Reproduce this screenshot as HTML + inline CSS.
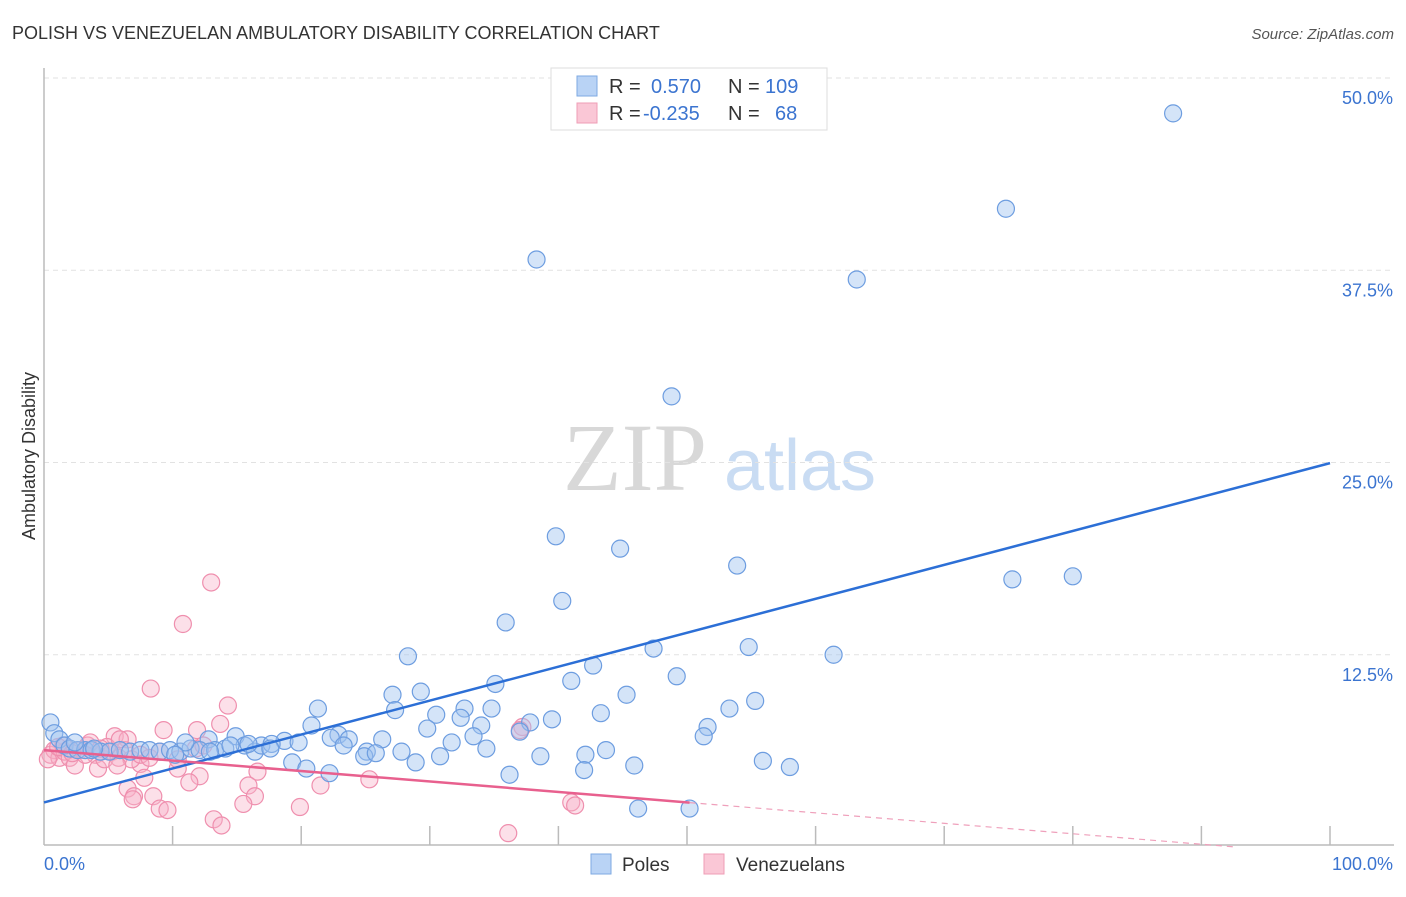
<!DOCTYPE html>
<html><head><meta charset="utf-8"><style>
body{margin:0;background:#fff;font-family:"Liberation Sans",sans-serif;}
svg text{font-family:"Liberation Sans",sans-serif;}
</style></head><body>
<svg id="chart" width="1406" height="892">
<text x="12" y="39" font-size="18" fill="#333">POLISH VS VENEZUELAN AMBULATORY DISABILITY CORRELATION CHART</text>
<text x="1394" y="39" font-size="15" fill="#555" font-style="italic" text-anchor="end">Source: ZipAtlas.com</text>
<text x="35" y="456" font-size="18" fill="#333" transform="rotate(-90 35 456)" text-anchor="middle">Ambulatory Disability</text>
<g>
<text x="635" y="490" font-size="96" fill="#d8d8d8" font-family="Liberation Serif" text-anchor="middle" style="font-family:'Liberation Serif',serif">ZIP</text>
<text x="800" y="490" font-size="72" fill="#c9dcf3" text-anchor="middle">atlas</text>
</g>
<g id="grid"></g>
<g id="axes"></g>
<g id="pts"></g>
<g id="lines"></g>
<g>
<rect x="551" y="68" width="276" height="62" fill="#fff" stroke="#ddd"/>
<rect x="577" y="76" width="20" height="20" fill="#b9d3f5" stroke="#7ea9e2"/>
<rect x="577" y="103" width="20" height="20" fill="#fac7d6" stroke="#ef9db6"/>
<text x="609" y="93" font-size="20" fill="#333">R =</text>
<text x="651" y="93" font-size="20" fill="#3b74d0">0.570</text>
<text x="728" y="93" font-size="20" fill="#333">N =</text>
<text x="765" y="93" font-size="20" fill="#3b74d0">109</text>
<text x="609" y="120" font-size="20" fill="#333">R =</text>
<text x="643" y="120" font-size="20" fill="#3b74d0">-0.235</text>
<text x="728" y="120" font-size="20" fill="#333">N =</text>
<text x="775" y="120" font-size="20" fill="#3b74d0">68</text>
</g>
<g>
<rect x="591" y="854" width="20" height="20" fill="#b9d3f5" stroke="#7ea9e2"/>
<text x="622" y="871" font-size="19" fill="#333">Poles</text>
<rect x="704" y="854" width="20" height="20" fill="#fac7d6" stroke="#ef9db6"/>
<text x="736" y="871" font-size="19" fill="#333">Venezuelans</text>
</g>
</svg>
<script>
const yTicks=[12.5,25,37.5,50];
const yTickLabels=["12.5%","25.0%","37.5%","50.0%"];
const xTickCount=10;
const polesX=[87.8,74.8,63.2,38.3,48.8,39.8,44.8,53.9,75.3,80.0,40.3,35.9,47.4,54.8,61.4,28.3,42.7,49.2,41.0,35.1,27.1,29.3,45.3,55.3,21.3,27.3,53.3,30.5,32.7,34.8,43.3,32.4,20.8,29.8,34.0,37.8,39.5,51.6,37.0,22.9,22.3,26.3,31.7,33.4,51.3,23.7,23.3,18.7,19.8,14.9,12.8,34.4,27.8,43.7,42.1,30.8,25.1,24.9,38.6,28.9,25.8,19.3,20.4,22.2,45.9,55.9,58.0,42.0,36.2,46.2,50.2,0.5,0.8,1.2,1.6,2.0,2.6,3.2,3.7,4.4,5.1,5.9,6.7,7.5,8.2,9.0,9.8,10.6,11.4,12.1,13.3,14.1,15.6,16.4,16.9,17.7,11.0,12.9,14.5,15.9,17.6,10.2,3.9,2.4];
const polesY=[47.7,41.5,36.9,38.2,29.3,20.2,19.4,18.3,17.4,17.6,16.0,14.6,12.9,13.0,12.5,12.4,11.8,11.1,10.8,10.6,9.9,10.1,9.9,9.5,9.0,8.9,9.0,8.6,9.0,9.0,8.7,8.4,7.9,7.7,7.9,8.1,8.3,7.8,7.5,7.3,7.1,7.0,6.8,7.2,7.2,7.0,6.6,6.9,6.8,7.2,7.0,6.4,6.2,6.3,6.0,5.9,6.2,5.9,5.9,5.5,6.1,5.5,5.1,4.8,5.3,5.6,5.2,5.0,4.7,2.5,2.5,8.1,7.4,7.0,6.6,6.4,6.3,6.3,6.3,6.2,6.2,6.3,6.2,6.3,6.3,6.2,6.3,6.2,6.4,6.3,6.3,6.4,6.6,6.2,6.6,6.7,6.8,6.2,6.6,6.7,6.4,6.0,6.4,6.8];
const venX=[13.0,10.8,8.3,14.3,9.3,13.7,11.9,5.5,6.5,37.2,37.0,11.8,7.5,10.4,12.1,16.6,25.3,7.8,15.9,21.5,11.3,6.5,7.0,8.5,6.9,16.4,15.5,19.9,9.0,9.6,41.0,41.3,13.2,13.8,36.1,0.5,0.8,1.2,1.6,2.0,2.4,2.8,3.4,4.0,4.2,4.7,5.3,5.8,6.3,6.8,3.6,1.5,4.9,5.7,0.3,3.2,1.1,2.2,5.9,4.4,7.5,8.2,9.0,10.4,12.4];
const venY=[17.2,14.5,10.3,9.2,7.6,8.0,7.6,7.2,7.0,7.8,7.6,6.4,5.4,5.1,4.6,4.9,4.4,4.5,4.0,4.0,4.2,3.8,3.3,3.3,3.1,3.3,2.8,2.6,2.5,2.4,2.9,2.7,1.8,1.4,0.9,6.0,6.3,5.8,6.2,5.8,5.3,6.3,6.6,6.0,5.1,5.7,6.2,5.8,6.3,5.7,6.8,6.6,6.5,5.3,5.7,6.0,6.5,6.1,7.0,6.4,6.0,5.8,6.2,5.7,6.6];
const polesTrend=[2.9,24.96];
const venTrend=[6.3,-0.5];
const venSolidEnd=50.2;

const X0=44,X1=1330,Y0=847,PX=15.38;
const sx=v=>X0+(X1-X0)*v/100;
const sy=v=>Y0-v*PX;
const NS="http://www.w3.org/2000/svg";
function mk(tag,attrs,parent){const e=document.createElementNS(NS,tag);for(const k in attrs)e.setAttribute(k,attrs[k]);parent.appendChild(e);return e;}
const grid=document.getElementById('grid'),axes=document.getElementById('axes'),pts=document.getElementById('pts'),lines=document.getElementById('lines');
yTicks.forEach((t,i)=>{
 const l=mk('line',{x1:X0,x2:1394,y1:sy(t),y2:sy(t),stroke:'#e2e2e2','stroke-dasharray':'5,4'},grid);
 
 
 const tx=mk('text',{x:1393,y:sy(t)+26,'font-size':18,fill:'#3b74d0','text-anchor':'end'},axes);
 tx.textContent=yTickLabels[i];
 
 
});
const ax=mk('line',{x1:X0,x2:1394,y1:845,y2:845,stroke:'#bbb','stroke-width':1.5},axes);


const ay=mk('line',{x1:X0,x2:X0,y1:68,y2:845,stroke:'#bbb','stroke-width':1.5},axes);


for(let i=1;i<=xTickCount;i++){
 const t=mk('line',{x1:sx(i*10),x2:sx(i*10),y1:826,y2:845,stroke:'#bbb','stroke-width':1.5},axes);
 
 
}
const xl0=mk('text',{x:44,y:870,'font-size':18,fill:'#3b74d0'},axes);xl0.textContent='0.0%';


const xl1=mk('text',{x:1393,y:870,'font-size':18,fill:'#3b74d0','text-anchor':'end'},axes);xl1.textContent='100.0%';



venX.forEach((x,i)=>{
 const c=mk('circle',{cx:sx(x),cy:sy(venY[i]),r:8.5,fill:'rgba(248,178,200,0.4)',stroke:'#ef8fae','stroke-width':1.2},pts);
 
 
});
polesX.forEach((x,i)=>{
 const c=mk('circle',{cx:sx(x),cy:sy(polesY[i]),r:8.5,fill:'rgba(160,196,240,0.45)',stroke:'#6d9de0','stroke-width':1.2},pts);
 
 
});
const bl=mk('line',{x1:sx(0),y1:sy(polesTrend[0]),x2:sx(100),y2:sy(polesTrend[1]),stroke:'#2c6fd6','stroke-width':2.5},lines);


const vy=x=>venTrend[0]+(venTrend[1]-venTrend[0])*x/100;
const pl=mk('line',{x1:sx(0),y1:sy(vy(0)),x2:sx(venSolidEnd),y2:sy(vy(venSolidEnd)),stroke:'#e8608e','stroke-width':2.5},lines);


const xe=(venTrend[0])/(venTrend[0]-venTrend[1])*100;
const pd=mk('line',{x1:sx(venSolidEnd),y1:sy(vy(venSolidEnd)),x2:sx(Math.min(100,xe)),y2:sy(vy(Math.min(100,xe))),stroke:'#efa0bb','stroke-width':1.2,'stroke-dasharray':'6,5'},lines);


</script>
</body></html>
